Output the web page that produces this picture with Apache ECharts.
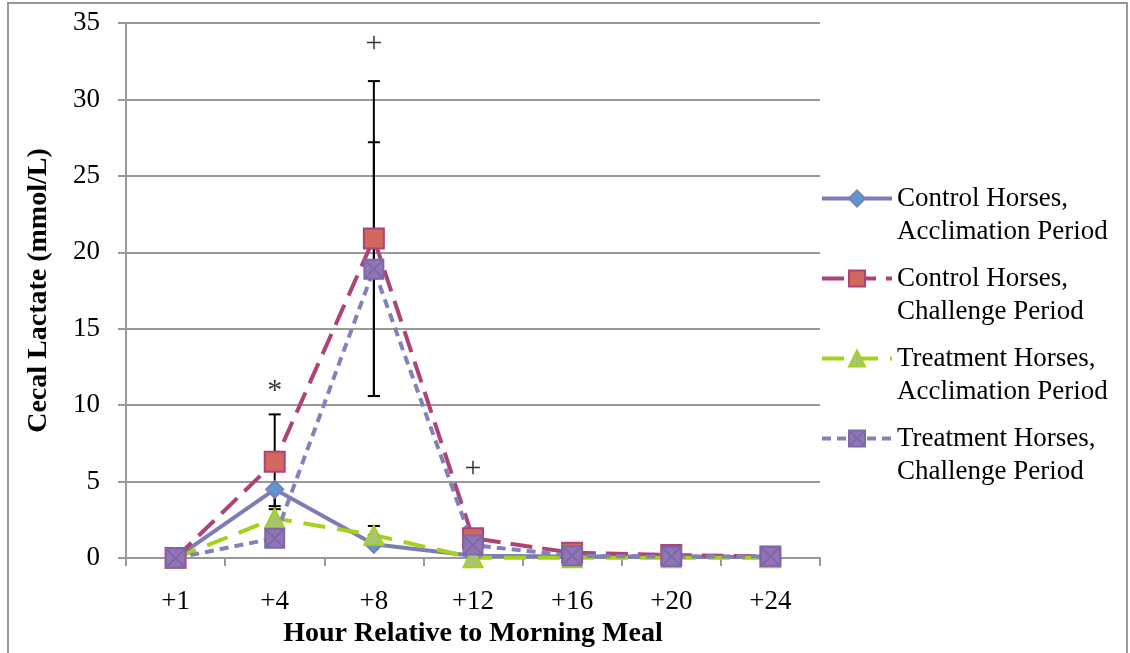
<!DOCTYPE html>
<html>
<head>
<meta charset="utf-8">
<script src="https://cdn.jsdelivr.net/npm/echarts@6/dist/echarts.min.js"></script>
<style>
  html, body { margin: 0; padding: 0; background: #fff; }
  #chart { width: 1130px; height: 653px; }
</style>
</head>
<body>
<div id="chart"></div>
<script>
const hours = ['+1', '+4', '+8', '+12', '+16', '+20', '+24'];
const controlAccl = [0, 4.5, 0.9, 0.15, 0.1, 0.1, 0.05];
const controlChal = [0, 6.3, 20.9, 1.3, 0.35, 0.2, 0.1];
const treatAccl = [0, 2.6, 1.5, 0.02, 0.02, 0.02, 0.02];
const treatChal = [0, 1.3, 18.9, 0.85, 0.15, 0.1, 0.1];

// error bars: [category, low, high]
const errorBars = [
    ['+4', 3.2, 9.4],
    ['+4', 3.4, 4.5],
    ['+8', 10.6, 31.2],
    ['+8', 10.6, 27.2],
    ['+8', 1.5, 2.1]
];

// significance marks
const markCats = ['+4', '+8', '+12'];
const markVals = [10.9, 33.6, 5.8];
const markTexts = ['*', '+', '+'];

const serif = 'Liberation Serif';
const xSquare = 'path://M0,0 L10,0 L10,10 L0,10 Z M0,0 L10,10 M10,0 L0,10';

let chart = echarts.init(document.getElementById('chart'));

function lineSeries(name, data, color, dash, symbol, size, fill, border) {
    return {
        name: name,
        type: 'line',
        data: data,
        symbol: symbol,
        symbolSize: size,
        z: 3,
        lineStyle: { color: color, width: 4, type: dash },
        itemStyle: { color: fill, borderColor: border || color, borderWidth: 2 }
    };
}

let option = {
    animation: false,
    graphic: [{
        type: 'rect',
        shape: { x: 8, y: 3, width: 1119, height: 660 },
        style: { fill: 'none', stroke: '#999', lineWidth: 2 },
        silent: true
    }],
    grid: { left: 126, right: 310, top: 23, bottom: 90 },
    legend: {
        orient: 'vertical',
        left: 820,
        top: 149,
        padding: 0,
        itemWidth: 70,
        itemHeight: 20,
        itemGap: -19,
        lineStyle: { width: 4 },
        // blank first line keeps the icon level with the first text line
        formatter: name => '\u00a0\n' + name,
        textStyle: { fontFamily: serif, fontSize: 27, color: '#000', lineHeight: 33 },
        data: [
            'Control Horses,\nAcclimation Period',
            'Control Horses,\nChallenge Period',
            'Treatment Horses,\nAcclimation Period',
            'Treatment Horses,\nChallenge Period'
        ]
    },
    xAxis: {
        type: 'category',
        data: hours,
        boundaryGap: true,
        name: 'Hour Relative to Morning Meal',
        nameLocation: 'middle',
        nameGap: 61,
        nameTextStyle: { fontFamily: serif, fontSize: 28, fontWeight: 'bold', color: '#000' },
        axisLine: { lineStyle: { color: '#999', width: 2 } },
        axisTick: { show: true, length: 8, lineStyle: { color: '#999', width: 2 } },
        axisLabel: { fontFamily: serif, fontSize: 27, color: '#000', margin: 30 }
    },
    yAxis: {
        type: 'value',
        min: 0,
        max: 35,
        interval: 5,
        name: 'Cecal Lactate (mmol/L)',
        nameLocation: 'middle',
        nameGap: 73,
        nameTextStyle: { fontFamily: serif, fontSize: 28, fontWeight: 'bold', color: '#000' },
        axisLine: { show: true, lineStyle: { color: '#999', width: 2 } },
        axisTick: { show: true, length: 8, lineStyle: { color: '#999', width: 2 } },
        axisLabel: { fontFamily: serif, fontSize: 27, color: '#000', margin: 26 },
        splitLine: { lineStyle: { color: '#999', width: 2 } }
    },
    series: [
        {
            type: 'custom',
            z: 2,
            silent: true,
            data: errorBars,
            renderItem: function (params, api) {
                let top = api.coord([api.value(0), api.value(2)]);
                let bot = api.coord([api.value(0), api.value(1)]);
                let w = 6;
                let st = { stroke: '#000', lineWidth: 2 };
                return {
                    type: 'group',
                    children: [
                        { type: 'line', shape: { x1: top[0], y1: top[1], x2: bot[0], y2: bot[1] }, style: st },
                        { type: 'line', shape: { x1: top[0] - w, y1: top[1], x2: top[0] + w, y2: top[1] }, style: st },
                        { type: 'line', shape: { x1: bot[0] - w, y1: bot[1], x2: bot[0] + w, y2: bot[1] }, style: st }
                    ]
                };
            },
            encode: { x: 0, y: [1, 2] }
        },
        lineSeries('Control Horses,\nAcclimation Period', controlAccl, '#7d7db6', 'solid', 'diamond', 17, '#5a98d2'),
        lineSeries('Control Horses,\nChallenge Period', controlChal, '#ad4377', [22, 10], 'rect', 20, '#d1675d'),
        lineSeries('Treatment Horses,\nAcclimation Period', treatAccl, '#a4d11c', [22, 12], 'triangle', 19, '#a8c470'),
        lineSeries('Treatment Horses,\nChallenge Period', treatChal, '#8282ba', [9, 6], xSquare, 19, '#9474b6', '#7a6aaa'),
        {
            type: 'scatter',
            symbolSize: 0,
            silent: true,
            data: markCats.map((c, i) => [c, markVals[i], markTexts[i]]),
            label: {
                show: true,
                position: 'inside',
                formatter: p => p.value[2],
                fontFamily: serif,
                fontSize: 30,
                color: '#000',
                textShadowColor: 'rgba(0,0,0,0.08)',
                textShadowBlur: 12
            }
        }
    ]
};

chart.setOption(option);
</script>
</body>
</html>
